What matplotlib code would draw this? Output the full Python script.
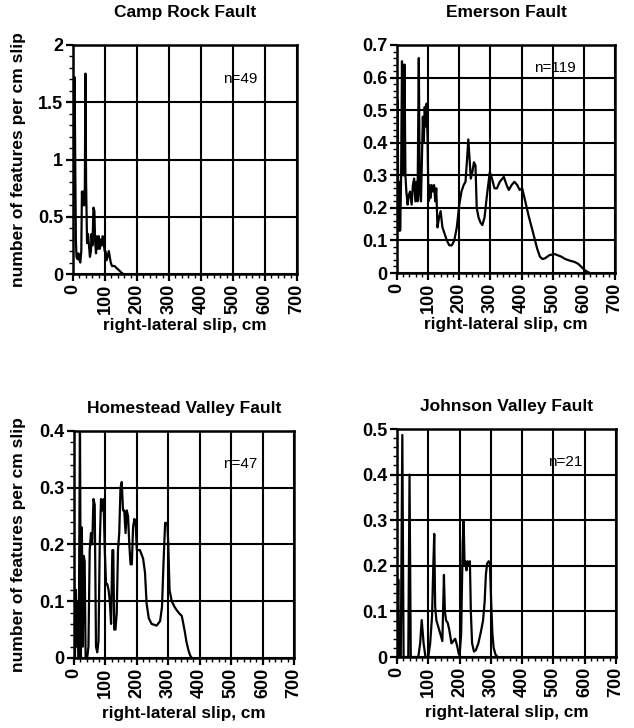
import numpy as np
import matplotlib

matplotlib.use("Agg")
import matplotlib.pyplot as plt
from matplotlib.ticker import MultipleLocator, FuncFormatter

plt.rcParams["font.family"] = ["Liberation Sans", "DejaVu Sans"]

# Camp Rock Fault
camp_x = [0, 2, 5, 7, 9, 11, 14, 17, 20, 23, 26, 28, 31, 33, 35, 37, 39, 41, 44, 47,
          50, 53, 56, 58, 61, 64, 67, 69, 72, 75, 78, 81, 84, 87, 90, 93, 96, 99, 102,
          105, 108, 112, 115, 118, 122, 130, 137, 145, 152, 158]
camp_y = [0.45, 1.0, 1.72, 1.0, 0.3, 0.15, 0.13, 0.18, 0.12, 0.1, 0.2, 0.72, 0.6, 0.72,
          0.6, 0.72, 1.75, 0.8, 0.27, 0.35, 0.25, 0.15, 0.2, 0.35, 0.25, 0.58, 0.55, 0.3,
          0.18, 0.33, 0.22, 0.33, 0.22, 0.3, 0.25, 0.33, 0.27, 0.2, 0.2, 0.12, 0.15, 0.2,
          0.15, 0.1, 0.07, 0.07, 0.05, 0.03, 0.01, 0.0]

# Emerson Fault
emer_x = [0, 2, 4, 6, 8, 10, 13, 16, 19, 22, 24, 27, 30, 34, 38, 42, 47, 51, 55, 59, 63,
          66, 70, 73, 77, 80, 83, 86, 89, 92, 95, 98, 101, 104, 107, 111, 115, 119, 123,
          126, 130, 135, 140, 146, 153, 160, 168, 176, 184, 192, 200, 207, 214, 220, 225,
          229, 233, 237, 242, 247, 252, 256, 262, 268, 274, 281, 289, 298, 305, 313, 321,
          330, 343, 352, 359, 368, 377, 386, 394, 402, 412, 422, 438, 450, 459, 467, 475,
          490, 507, 520, 528, 540, 555, 570, 582, 593, 603, 612, 620]
emer_y = [0.3, 0.53, 0.2, 0.13, 0.28, 0.13, 0.28, 0.65, 0.3, 0.3, 0.64, 0.3, 0.25, 0.21,
          0.24, 0.25, 0.21, 0.27, 0.29, 0.22, 0.28, 0.22, 0.66, 0.25, 0.22, 0.35, 0.48,
          0.4, 0.51, 0.45, 0.52, 0.42, 0.22, 0.27, 0.23, 0.27, 0.25, 0.27, 0.22, 0.26,
          0.14, 0.17, 0.19, 0.14, 0.12, 0.1, 0.085, 0.085, 0.1, 0.14, 0.21, 0.25, 0.27,
          0.28, 0.35, 0.41, 0.35, 0.29, 0.31, 0.34, 0.33, 0.2, 0.17, 0.155, 0.147, 0.17,
          0.24, 0.31, 0.29, 0.26, 0.26, 0.28, 0.295, 0.27, 0.255, 0.27, 0.28, 0.27, 0.255,
          0.26, 0.22, 0.178, 0.12, 0.075, 0.05, 0.043, 0.045, 0.055, 0.058, 0.053, 0.05,
          0.043, 0.038, 0.034, 0.028, 0.018, 0.009, 0.003, 0.0]

# Homestead Valley Fault
home_x = [0, 3, 6, 9, 12, 15, 19, 22, 25, 28, 31, 34, 37, 42, 46, 50, 54, 58, 62, 66,
          70, 74, 78, 82, 86, 90, 94, 98, 102, 106, 110, 114, 118, 122, 125, 128, 132,
          136, 140, 144, 148, 152, 156, 160, 164, 168, 172, 176, 180, 184, 188, 192, 196,
          200, 210, 220, 226, 231, 238, 247, 263, 274, 280, 285, 290, 297, 300, 304, 311,
          320, 327, 336, 343, 348, 353, 358, 364, 370, 375]
home_y = [0.14, 0.0, 0.12, 0.02, 0.1, 0.0, 0.42, 0.0, 0.23, 0.02, 0.18, 0.17, 0.0, 0.0,
          0.02, 0.19, 0.22, 0.2, 0.28, 0.27, 0.02, 0.01, 0.03, 0.2, 0.28, 0.26, 0.28, 0.19,
          0.13, 0.13, 0.12, 0.1, 0.06, 0.19, 0.19, 0.05, 0.05, 0.08, 0.19, 0.22, 0.3, 0.31,
          0.26, 0.26, 0.22, 0.26, 0.25, 0.2, 0.165, 0.165, 0.23, 0.245, 0.24, 0.19, 0.19,
          0.175, 0.15, 0.096, 0.07, 0.06, 0.057, 0.065, 0.09, 0.17, 0.238, 0.238, 0.2,
          0.12, 0.1, 0.09, 0.084, 0.078, 0.074, 0.06, 0.045, 0.028, 0.014, 0.004, 0.0]

# Johnson Valley Fault
john_x = [0, 4, 7, 12, 17, 21, 36, 40, 44, 68, 74, 79, 85, 91, 100, 106, 112, 116, 119,
          122, 126, 132, 138, 145, 150, 153, 157, 162, 167, 174, 180, 186, 192, 197, 200,
          205, 210, 213, 216, 219, 222, 226, 229, 233, 236, 240, 246, 252, 260, 268, 275,
          280, 284, 288, 293, 297, 301, 305, 309, 315, 322]
john_y = [0.0, 0.17, 0.0, 0.0, 0.487, 0.0, 0.0, 0.4, 0.0, 0.0, 0.03, 0.081, 0.03, 0.0,
          0.0, 0.03, 0.09, 0.2, 0.27, 0.11, 0.08, 0.066, 0.052, 0.035, 0.18, 0.1, 0.08,
          0.075, 0.06, 0.03, 0.035, 0.04, 0.025, 0.008, 0.004, 0.05, 0.25, 0.3, 0.2, 0.21,
          0.19, 0.21, 0.2, 0.21, 0.1, 0.03, 0.012, 0.015, 0.03, 0.055, 0.08, 0.12, 0.18,
          0.205, 0.21, 0.205, 0.12, 0.05, 0.02, 0.005, 0.0]

titles = ["Camp Rock Fault", "Emerson Fault", "Homestead Valley Fault", "Johnson Valley Fault"]
counts = ["n=49", "n=119", "n=47", "n=21"]
ymax = [2, 0.7, 0.4, 0.5]
ymajor = [0.5, 0.1, 0.1, 0.1]
yminor = [0.1, 0.02, 0.02, 0.02]
xs = [camp_x, emer_x, home_x, john_x]
ys = [camp_y, emer_y, home_y, john_y]

# axes boxes in figure fractions (left, bottom, width, height)
boxes = [
    [0.1151, 0.6236, 0.3533, 0.3146],
    [0.6262, 0.6250, 0.3438, 0.3132],
    [0.1167, 0.0962, 0.3470, 0.3118],
    [0.6262, 0.0975, 0.3454, 0.3132],
]
n_pos = [(0.745, 0.85), (0.725, 0.9), (0.755, 0.855), (0.767, 0.855)]
title_pad = [20, 20, 13, 13]
xlab_pad = [3, 3, 6, 6]
ylab_x = [-0.21, None, -0.22, None]

fig = plt.figure(figsize=(6.34, 7.28), dpi=100)

for i in range(4):
    ax = fig.add_axes(boxes[i])
    ax.plot(xs[i], ys[i], color="black", lw=1.6, clip_on=True)
    ax.set_xlim(0, 700)
    ax.set_ylim(0, ymax[i])
    ax.xaxis.set_major_locator(MultipleLocator(100))
    ax.xaxis.set_minor_locator(MultipleLocator(20))
    ax.yaxis.set_major_locator(MultipleLocator(ymajor[i]))
    ax.yaxis.set_minor_locator(MultipleLocator(yminor[i]))
    ax.yaxis.set_major_formatter(FuncFormatter(lambda v, p: "%g" % round(v, 3)))
    ax.xaxis.set_major_formatter(FuncFormatter(lambda v, p: "%d" % v))
    ax.grid(True, which="major", color="black", lw=1.5)
    ax.set_axisbelow(True)
    for s in ax.spines.values():
        s.set_linewidth(1.8)
    ax.tick_params(which="major", direction="out", length=5, width=1.6,
                   labelsize=13, pad=2)
    ax.tick_params(which="minor", direction="out", length=3, width=1.0)
    for lab in ax.get_xticklabels():
        lab.set_rotation(90)
        lab.set_fontweight("bold")
    for lab in ax.get_yticklabels():
        lab.set_fontweight("bold")
    ax.set_title(titles[i], fontsize=12.5, fontweight="bold", pad=title_pad[i])
    ax.set_xlabel("right-lateral slip, cm", fontsize=12.3, fontweight="bold",
                  labelpad=xlab_pad[i])
    if ylab_x[i] is not None:
        ax.set_ylabel("number of features per cm slip", fontsize=12.5,
                      fontweight="bold")
        ax.yaxis.set_label_coords(ylab_x[i], 0.5)
    ax.text(n_pos[i][0], n_pos[i][1], counts[i], transform=ax.transAxes,
            ha="center", va="center", fontsize=11)

fig.savefig("out.png", dpi=100)
